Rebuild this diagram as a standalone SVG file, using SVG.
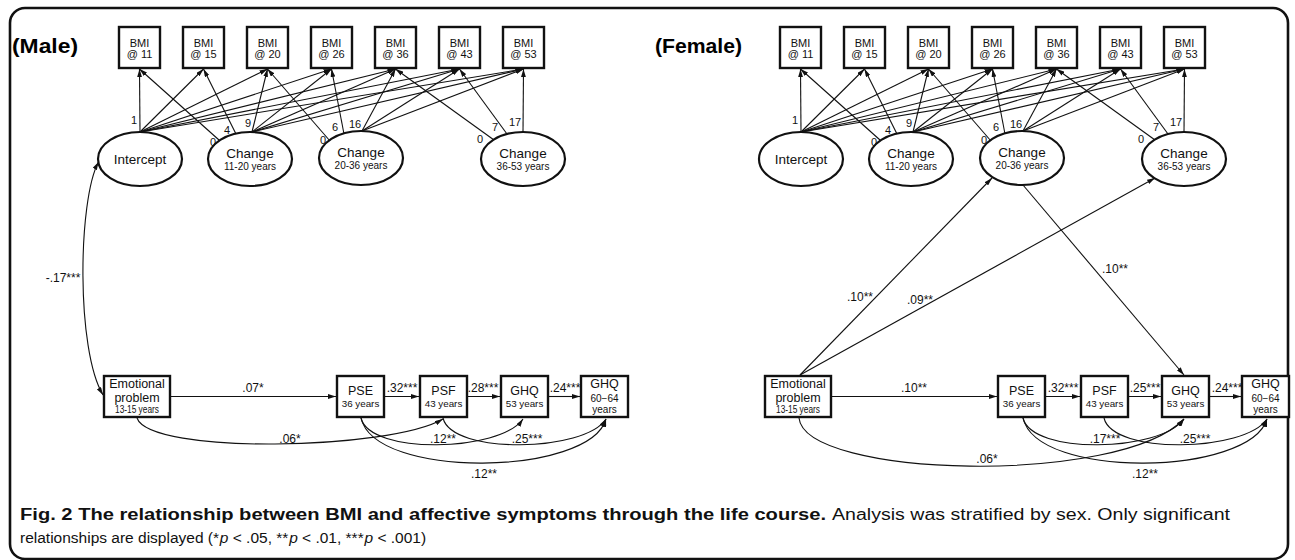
<svg xmlns="http://www.w3.org/2000/svg" width="1295" height="560" viewBox="0 0 1295 560">
<style>
.t{font-family:"Liberation Sans",Arial,sans-serif;fill:#111;text-anchor:middle}
.box{fill:#fff;stroke:#111;stroke-width:2.4}
.lat{fill:#fff;stroke:#111;stroke-width:2.2}
.ln{fill:none;stroke:#111;stroke-width:1.1;marker-end:url(#ah)}
.dl{fill:none;stroke:#111;stroke-width:1.1;marker-start:url(#ah);marker-end:url(#ah)}
.b11{font-size:11px}
.lab{font-size:11px}
.el{font-size:12px}
.cap{font-family:"Liberation Sans",Arial,sans-serif;fill:#111;font-size:16px}
</style>
<defs>
<marker id="ah" viewBox="0 0 10 6" refX="10" refY="3" markerWidth="8" markerHeight="4.8" markerUnits="userSpaceOnUse" orient="auto-start-reverse"><path d="M0,0 L10,3 L0,6 z" fill="#111"/></marker>
</defs>
<rect x="10" y="8" width="1278" height="551" rx="15" fill="none" stroke="#111" stroke-width="2.6"/>
<text x="12" y="53" style="font-family:'Liberation Sans',Arial,sans-serif;font-weight:bold;font-size:21px" textLength="66" lengthAdjust="spacingAndGlyphs">(Male)</text>
<text x="655" y="53" style="font-family:'Liberation Sans',Arial,sans-serif;font-weight:bold;font-size:21px" textLength="87" lengthAdjust="spacingAndGlyphs">(Female)</text>

<!-- Male nodes -->
<g id="m-bmi11"><rect class="box" x="119" y="27" width="41" height="41"/><text class="t b11" x="139.5" y="47">BMI</text><text class="t b11" x="139.5" y="58">@ 11</text></g>
<g id="m-bmi15"><rect class="box" x="183" y="27" width="41" height="41"/><text class="t b11" x="203.5" y="47">BMI</text><text class="t b11" x="203.5" y="58">@ 15</text></g>
<g id="m-bmi20"><rect class="box" x="247" y="27" width="41" height="41"/><text class="t b11" x="267.5" y="47">BMI</text><text class="t b11" x="267.5" y="58">@ 20</text></g>
<g id="m-bmi26"><rect class="box" x="311" y="27" width="41" height="41"/><text class="t b11" x="331.5" y="47">BMI</text><text class="t b11" x="331.5" y="58">@ 26</text></g>
<g id="m-bmi36"><rect class="box" x="375" y="27" width="41" height="41"/><text class="t b11" x="395.5" y="47">BMI</text><text class="t b11" x="395.5" y="58">@ 36</text></g>
<g id="m-bmi43"><rect class="box" x="439" y="27" width="41" height="41"/><text class="t b11" x="459.5" y="47">BMI</text><text class="t b11" x="459.5" y="58">@ 43</text></g>
<g id="m-bmi53"><rect class="box" x="503" y="27" width="41" height="41"/><text class="t b11" x="523.5" y="47">BMI</text><text class="t b11" x="523.5" y="58">@ 53</text></g>
<g id="m-intercept"><ellipse class="lat" cx="140" cy="159" rx="42" ry="27"/><text class="t" x="140" y="164" font-size="13.5">Intercept</text></g>
<g id="m-change1"><ellipse class="lat" cx="250" cy="159" rx="42" ry="27"/><text class="t" x="250" y="158" font-size="13.5">Change</text><text class="t" x="250" y="170" font-size="10">11-20 years</text></g>
<g id="m-change2"><ellipse class="lat" cx="361" cy="158" rx="42" ry="27"/><text class="t" x="361" y="157" font-size="13.5">Change</text><text class="t" x="361" y="169" font-size="10">20-36 years</text></g>
<g id="m-change3"><ellipse class="lat" cx="523" cy="159" rx="42" ry="27"/><text class="t" x="523" y="158" font-size="13.5">Change</text><text class="t" x="523" y="170" font-size="10">36-53 years</text></g>
<g id="m-emo"><rect class="box" x="104" y="376" width="66" height="41"/><text class="t" x="137" y="388" font-size="12.5">Emotional</text><text class="t" x="137" y="402" font-size="12.5">problem</text><text class="t" x="137" y="413" font-size="10" textLength="44" lengthAdjust="spacingAndGlyphs">13-15 years</text></g>
<g id="m-pse"><rect class="box" x="337" y="376" width="47" height="41"/><text class="t" x="360.5" y="395" font-size="12.5">PSE</text><text class="t" x="360.5" y="407" font-size="9.8">36 years</text></g>
<g id="m-psf"><rect class="box" x="420" y="376" width="47" height="41"/><text class="t" x="443.5" y="395" font-size="12.5">PSF</text><text class="t" x="443.5" y="407" font-size="9.8">43 years</text></g>
<g id="m-ghq53"><rect class="box" x="501" y="376" width="47" height="41"/><text class="t" x="524.5" y="395" font-size="12.5">GHQ</text><text class="t" x="524.5" y="407" font-size="9.8">53 years</text></g>
<g id="m-ghq60"><rect class="box" x="581" y="376" width="47" height="41"/><text class="t" x="604.5" y="388" font-size="12.5">GHQ</text><text class="t" x="604.5" y="402" font-size="10">60−64</text><text class="t" x="604.5" y="413" font-size="10">years</text></g>

<!-- Female nodes -->
<g id="f-bmi11"><rect class="box" x="780" y="27" width="41" height="41"/><text class="t b11" x="800.5" y="47">BMI</text><text class="t b11" x="800.5" y="58">@ 11</text></g>
<g id="f-bmi15"><rect class="box" x="844" y="27" width="41" height="41"/><text class="t b11" x="864.5" y="47">BMI</text><text class="t b11" x="864.5" y="58">@ 15</text></g>
<g id="f-bmi20"><rect class="box" x="908" y="27" width="41" height="41"/><text class="t b11" x="928.5" y="47">BMI</text><text class="t b11" x="928.5" y="58">@ 20</text></g>
<g id="f-bmi26"><rect class="box" x="972" y="27" width="41" height="41"/><text class="t b11" x="992.5" y="47">BMI</text><text class="t b11" x="992.5" y="58">@ 26</text></g>
<g id="f-bmi36"><rect class="box" x="1036" y="27" width="41" height="41"/><text class="t b11" x="1056.5" y="47">BMI</text><text class="t b11" x="1056.5" y="58">@ 36</text></g>
<g id="f-bmi43"><rect class="box" x="1100" y="27" width="41" height="41"/><text class="t b11" x="1120.5" y="47">BMI</text><text class="t b11" x="1120.5" y="58">@ 43</text></g>
<g id="f-bmi53"><rect class="box" x="1164" y="27" width="41" height="41"/><text class="t b11" x="1184.5" y="47">BMI</text><text class="t b11" x="1184.5" y="58">@ 53</text></g>
<g id="f-intercept"><ellipse class="lat" cx="801" cy="159" rx="42" ry="27"/><text class="t" x="801" y="164" font-size="13.5">Intercept</text></g>
<g id="f-change1"><ellipse class="lat" cx="911" cy="159" rx="42" ry="27"/><text class="t" x="911" y="158" font-size="13.5">Change</text><text class="t" x="911" y="170" font-size="10">11-20 years</text></g>
<g id="f-change2"><ellipse class="lat" cx="1022" cy="158" rx="42" ry="27"/><text class="t" x="1022" y="157" font-size="13.5">Change</text><text class="t" x="1022" y="169" font-size="10">20-36 years</text></g>
<g id="f-change3"><ellipse class="lat" cx="1184" cy="159" rx="42" ry="27"/><text class="t" x="1184" y="158" font-size="13.5">Change</text><text class="t" x="1184" y="170" font-size="10">36-53 years</text></g>
<g id="f-emo"><rect class="box" x="765" y="376" width="66" height="41"/><text class="t" x="798" y="388" font-size="12.5">Emotional</text><text class="t" x="798" y="402" font-size="12.5">problem</text><text class="t" x="798" y="413" font-size="10" textLength="44" lengthAdjust="spacingAndGlyphs">13-15 years</text></g>
<g id="f-pse"><rect class="box" x="998" y="376" width="47" height="41"/><text class="t" x="1021.5" y="395" font-size="12.5">PSE</text><text class="t" x="1021.5" y="407" font-size="9.8">36 years</text></g>
<g id="f-psf"><rect class="box" x="1081" y="376" width="47" height="41"/><text class="t" x="1104.5" y="395" font-size="12.5">PSF</text><text class="t" x="1104.5" y="407" font-size="9.8">43 years</text></g>
<g id="f-ghq53"><rect class="box" x="1162" y="376" width="47" height="41"/><text class="t" x="1185.5" y="395" font-size="12.5">GHQ</text><text class="t" x="1185.5" y="407" font-size="9.8">53 years</text></g>
<g id="f-ghq60"><rect class="box" x="1242" y="376" width="47" height="41"/><text class="t" x="1265.5" y="388" font-size="12.5">GHQ</text><text class="t" x="1265.5" y="402" font-size="10">60−64</text><text class="t" x="1265.5" y="413" font-size="10">years</text></g>

<g id="connectors">
<!-- Male loadings -->
<path class="ln" d="M140,132 L139.5,69"/>
<path class="ln" d="M140,132 L203.5,69"/>
<path class="ln" d="M140,132 L267.5,69"/>
<path class="ln" d="M140,132 L331.5,69"/>
<path class="ln" d="M140,132 L395.5,69"/>
<path class="ln" d="M140,132 L459.5,69"/>
<path class="ln" d="M140,132 L523.5,69"/>
<path class="ln" d="M219,140 L139.5,69"/>
<path class="ln" d="M236,134 L203.5,69"/>
<path class="ln" d="M252,132 L267.5,69"/>
<path class="ln" d="M252,132 L331.5,69"/>
<path class="ln" d="M252,132 L395.5,69"/>
<path class="ln" d="M252,132 L459.5,69"/>
<path class="ln" d="M252,132 L523.5,69"/>
<path class="ln" d="M330,141 L267.5,69"/>
<path class="ln" d="M344,134 L331.5,69"/>
<path class="ln" d="M362,131 L395.5,69"/>
<path class="ln" d="M362,131 L459.5,69"/>
<path class="ln" d="M362,131 L523.5,69"/>
<path class="ln" d="M494,140 L395.5,69"/>
<path class="ln" d="M507,134 L459.5,69"/>
<path class="ln" d="M523,132 L523.5,69"/>
<g class="t lab">
<text x="134" y="124">1</text><text x="213" y="146">0</text><text x="227" y="134">4</text><text x="248" y="127">9</text>
<text x="323" y="144">0</text><text x="335" y="131">6</text><text x="355" y="128">16</text>
<text x="480" y="143">0</text><text x="495" y="131">7</text><text x="515" y="126">17</text>
</g>
<!-- Male structural -->
<path class="dl" d="M98.5,162 C78,200 76,350 103,395"/>
<text class="t el" x="63" y="282">-.17***</text>
<path class="ln" d="M170,396.5 L336,396.5"/>
<path class="ln" d="M384,396.5 L419,396.5"/>
<path class="ln" d="M467,396.5 L500,396.5"/>
<path class="ln" d="M548,396.5 L580,396.5"/>
<text class="t el" x="253" y="392">.07*</text>
<text class="t el" x="402" y="392">.32***</text>
<text class="t el" x="483" y="392">.28***</text>
<text class="t el" x="565" y="392">.24***</text>
<path class="ln" d="M137,418 C150,455 390,450 443,419"/>
<path class="ln" d="M361,418 C370,455 500,452 523,419"/>
<path class="ln" d="M443,418 C452,455 585,452 606,419"/>
<path class="ln" d="M361,418 C375,480 590,476 606,419"/>
<text class="t el" x="290" y="443">.06*</text>
<text class="t el" x="443" y="443">.12**</text>
<text class="t el" x="527" y="443">.25***</text>
<text class="t el" x="484" y="478">.12**</text>

<!-- Female loadings -->
<path class="ln" d="M801,132 L800.5,69"/>
<path class="ln" d="M801,132 L864.5,69"/>
<path class="ln" d="M801,132 L928.5,69"/>
<path class="ln" d="M801,132 L992.5,69"/>
<path class="ln" d="M801,132 L1056.5,69"/>
<path class="ln" d="M801,132 L1120.5,69"/>
<path class="ln" d="M801,132 L1184.5,69"/>
<path class="ln" d="M880,140 L800.5,69"/>
<path class="ln" d="M897,134 L864.5,69"/>
<path class="ln" d="M913,132 L928.5,69"/>
<path class="ln" d="M913,132 L992.5,69"/>
<path class="ln" d="M913,132 L1056.5,69"/>
<path class="ln" d="M913,132 L1120.5,69"/>
<path class="ln" d="M913,132 L1184.5,69"/>
<path class="ln" d="M991,141 L928.5,69"/>
<path class="ln" d="M1005,134 L992.5,69"/>
<path class="ln" d="M1023,131 L1056.5,69"/>
<path class="ln" d="M1023,131 L1120.5,69"/>
<path class="ln" d="M1023,131 L1184.5,69"/>
<path class="ln" d="M1155,140 L1056.5,69"/>
<path class="ln" d="M1168,134 L1120.5,69"/>
<path class="ln" d="M1184,132 L1184.5,69"/>
<g class="t lab">
<text x="795" y="124">1</text><text x="874" y="146">0</text><text x="888" y="134">4</text><text x="909" y="127">9</text>
<text x="984" y="144">0</text><text x="996" y="131">6</text><text x="1016" y="128">16</text>
<text x="1141" y="143">0</text><text x="1156" y="131">7</text><text x="1176" y="126">17</text>
</g>
<!-- Female structural -->
<path class="ln" d="M800,375 L992,178"/>
<path class="ln" d="M800,375 L1155,178"/>
<path class="ln" d="M1023,185 L1184,375"/>
<text class="t el" x="860" y="301">.10**</text>
<text class="t el" x="920" y="304">.09**</text>
<text class="t el" x="1115" y="273">.10**</text>
<path class="ln" d="M831,396.5 L997,396.5"/>
<path class="ln" d="M1045,396.5 L1080,396.5"/>
<path class="ln" d="M1128,396.5 L1161,396.5"/>
<path class="ln" d="M1209,396.5 L1241,396.5"/>
<text class="t el" x="914" y="392">.10**</text>
<text class="t el" x="1063" y="392">.32***</text>
<text class="t el" x="1145" y="392">.25***</text>
<text class="t el" x="1227" y="392">.24***</text>
<path class="ln" d="M799,418 C805,478 1120,486 1184,419"/>
<path class="ln" d="M1023,418 C1032,455 1160,452 1184,419"/>
<path class="ln" d="M1104,418 C1113,455 1245,452 1267,419"/>
<path class="ln" d="M1023,418 C1037,480 1250,476 1267,419"/>
<text class="t el" x="987" y="463">.06*</text>
<text class="t el" x="1105" y="443">.17***</text>
<text class="t el" x="1195" y="443">.25***</text>
<text class="t el" x="1145" y="478">.12**</text>
</g>

<g id="caption">
<text class="cap" x="20" y="520" font-weight="bold" textLength="806" lengthAdjust="spacingAndGlyphs">Fig. 2 The relationship between BMI and affective symptoms through the life course.</text>
<text class="cap" x="832" y="520" textLength="398" lengthAdjust="spacingAndGlyphs">Analysis was stratified by sex. Only significant</text>
<text class="cap" x="20" y="543" style="font-size:15.5px">relationships are displayed (*<tspan font-style="italic" dx="0.8">p</tspan> &lt; .05, **<tspan font-style="italic" dx="0.8">p</tspan> &lt; .01, ***<tspan font-style="italic" dx="0.8">p</tspan> &lt; .001)</text>
</g>
</svg>
